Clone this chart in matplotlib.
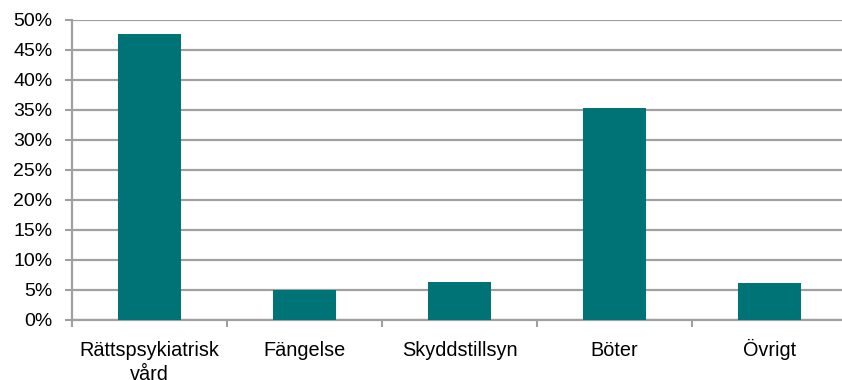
import numpy as np
from matplotlib import pyplot as plt

# Kategorier och andelar (procent)
categories = ['Rättspsykiatrisk\nvård', 'Fängelse', 'Skyddstillsyn', 'Böter', 'Övrigt']
values = [47.6, 5.0, 6.4, 35.4, 6.1]

plt.rcParams['font.family'] = ['Liberation Sans', 'DejaVu Sans']

fig = plt.figure(figsize=(8.42, 3.80), dpi=100)
ax = fig.add_axes([72 / 842, 60 / 380, 775 / 842, 300 / 380])

index = np.arange(len(categories))
ax.bar(index, values, 0.41, color='#007377', zorder=3)

ax.set_xlim(-0.5, len(categories) - 0.5)
ax.set_ylim(0, 50)
ax.set_yticks(np.arange(0, 51, 5))
ax.set_yticklabels([f'{v}%' for v in range(0, 51, 5)], fontsize=14)

# Kategorietiketter i mitten (varje rad på egen baslinje), tickmarkeringar på gränserna
ax.set_xticks(index)
ax.set_xticklabels([])
ax.tick_params(axis='x', length=0)
for i, label in enumerate(categories):
    for j, line in enumerate(label.split('\n')):
        ax.annotate(line, xy=(i, 0), xycoords=('data', 'axes fraction'),
                    xytext=(0, -26 - 17.3 * j), textcoords='offset points',
                    ha='center', va='baseline', fontsize=14.3, annotation_clip=False)
ax.set_xticks(np.arange(len(categories) + 1) - 0.5, minor=True)
ax.tick_params(axis='x', which='minor', length=5, width=1.5, color='#a0a0a0')
ax.tick_params(axis='y', length=5, width=1.5, color='#a0a0a0', pad=9)

ax.grid(axis='y', color='#a0a0a0', linewidth=1.6, zorder=0)
for side in ['top', 'right']:
    ax.spines[side].set_visible(False)
ax.spines['left'].set_color('#a0a0a0')
ax.spines['left'].set_linewidth(1.6)
ax.spines['bottom'].set_color('#a0a0a0')
ax.spines['bottom'].set_linewidth(1.6)

fig.savefig('out.png', dpi=100)
